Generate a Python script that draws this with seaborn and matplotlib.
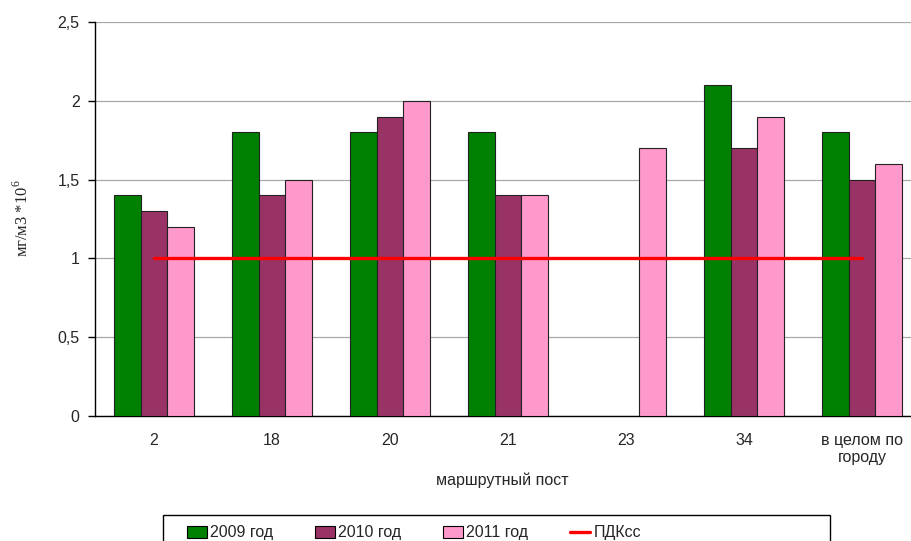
import numpy as np
import pandas as pd
import matplotlib
matplotlib.use("Agg")
import matplotlib.pyplot as plt
import seaborn as sns
from matplotlib.patches import Patch, Rectangle
from matplotlib.lines import Line2D

# Data
posts = ["2", "18", "20", "21", "23", "34", "в целом по\nгороду"]
years = ["2009 год", "2010 год", "2011 год"]
v2009 = [1.4, 1.8, 1.8, 1.8, np.nan, 2.1, 1.8]
v2010 = [1.3, 1.4, 1.9, 1.4, np.nan, 1.7, 1.5]
v2011 = [1.2, 1.5, 2.0, 1.4, 1.7, 1.9, 1.6]
pdk = [1, 1, 1, 1, 1, 1, 1]
pdk_label = "ПДКсс"
yticks = [0, 0.5, 1, 1.5, 2, 2.5]
ytick_labels = ["0", "0,5", "1", "1,5", "2", "2,5"]

colors = ["#008000", "#993366", "#FF99CC"]
FS = 11.5

df = pd.DataFrame({
    "post": posts * 3,
    "year": [years[0]] * 7 + [years[1]] * 7 + [years[2]] * 7,
    "value": v2009 + v2010 + v2011,
})

sns.set_style("white")
plt.rcParams["font.family"] = ["Liberation Sans", "DejaVu Sans"]
plt.rcParams["mathtext.fontset"] = "custom"
plt.rcParams["mathtext.rm"] = "Liberation Serif"

W, H = 912, 541
fig = plt.figure(figsize=(W / 100, H / 100), dpi=100)
ax = fig.add_axes([95 / W, 1 - 416 / H, 826 / W, (416 - 22) / H])

sns.barplot(data=df, x="post", y="value", hue="year", order=posts,
            hue_order=years, palette=colors, saturation=1, width=0.67, gap=0,
            edgecolor="#222222", linewidth=0.8, errorbar=None, ax=ax,
            legend=False, zorder=3)

ax.plot(range(len(posts)), pdk, color="#FF0000", linewidth=2.4, zorder=4)

ax.set_xlabel("")
ax.set_ylabel("")
ax.set_xlim(-0.5, len(posts) - 0.5)
ax.set_ylim(0, 2.5)
ax.set_yticks(yticks)
ax.set_yticklabels(ytick_labels, fontsize=FS)
ax.yaxis.grid(True, color="#a8a8a8", linewidth=0.9, zorder=0)
ax.set_axisbelow(True)

# category labels centred, tick marks on group boundaries
ax.set_xticks(range(len(posts)))
ax.set_xticklabels(posts, fontsize=FS)
ax.tick_params(axis="x", which="major", length=0, pad=12)
ax.set_xticks(np.arange(-0.5, len(posts), 1), minor=True)
ax.tick_params(axis="x", which="minor", length=5, width=1, color="black", direction="out")
ax.tick_params(axis="y", length=5, width=1, color="black", direction="out", pad=6, left=True)

for s in ["top", "right"]:
    ax.spines[s].set_visible(False)
for s in ["left", "bottom"]:
    ax.spines[s].set_color("black")
    ax.spines[s].set_linewidth(1)

fig.text(502 / W, 1 - 480 / H, "маршрутный пост", fontsize=FS, ha="center", va="center")
fig.text(22 / W, 1 - 218 / H, r"мг/м3 *10$^{\mathrm{6}}$", fontsize=12, rotation=90,
         ha="center", va="center", family=["Liberation Serif", "DejaVu Serif"])

# legend frame and entries
fig.add_artist(Rectangle((163 / W, 1 - 550 / H), (830 - 163) / W, 35 / H,
                         transform=fig.transFigure, facecolor="white",
                         edgecolor="black", linewidth=1, zorder=5))
handles = [Patch(facecolor=c, edgecolor="black", linewidth=0.8) for c in colors]
handles.append(Line2D([0], [0], color="#FF0000", linewidth=2.4))
leg = fig.legend(handles, years + [pdk_label], loc="center left",
                 bbox_to_anchor=(187 / W, 1 - 533 / H), ncol=4,
                 fontsize=FS, frameon=False,
                 handlelength=1.25, handleheight=0.7, handletextpad=0.2,
                 columnspacing=2.62, borderpad=0, borderaxespad=0)
leg.set_zorder(6)

fig.savefig("out.png", dpi=100)
